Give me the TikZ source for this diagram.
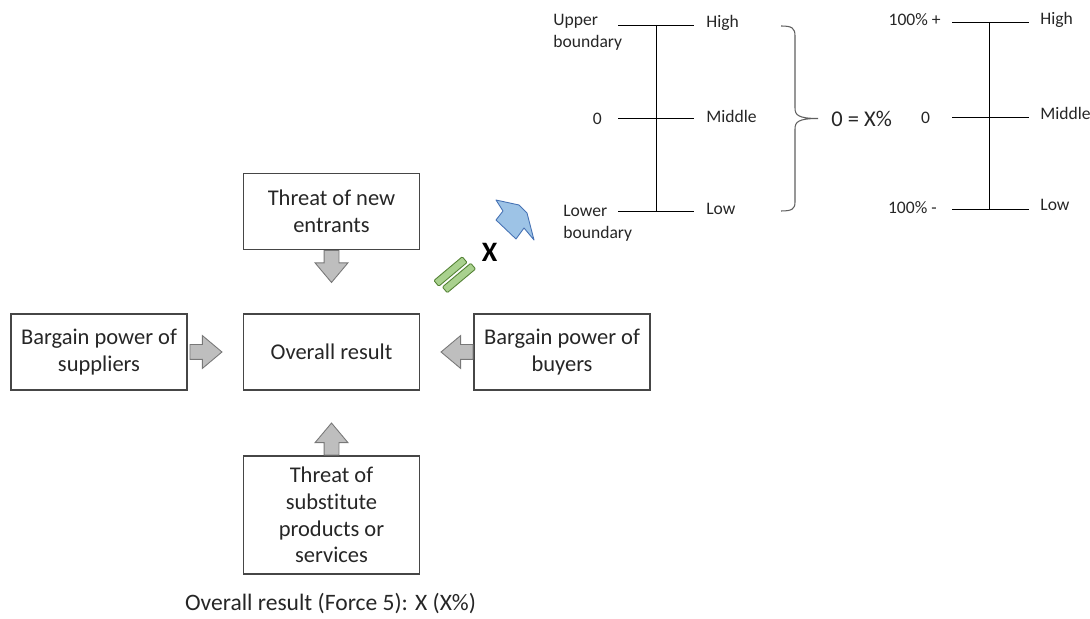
\documentclass[tikz,border=0pt]{standalone}
\usepackage{fontspec}
\setmainfont{Carlito}[Ligatures=NoCommon]
\usetikzlibrary{shapes.arrows,calc}

\definecolor{boxline}{RGB}{70,70,70}
\definecolor{arrowfill}{RGB}{190,190,190}
\definecolor{arrowline}{RGB}{120,120,120}
\definecolor{bluefill}{RGB}{157,195,230}
\definecolor{blueline}{RGB}{70,114,180}
\definecolor{greenfill}{RGB}{169,209,142}
\definecolor{greenline}{RGB}{84,130,53}
\definecolor{braceline}{RGB}{95,95,95}

\tikzset{
  forcebox/.style={draw=boxline, line width=0.6pt, minimum width=35.2mm, minimum height=15.2mm,
    align=center, inner sep=2pt, font=\fontsize{12.8}{15.2}\selectfont, text=black!85},
  blockarrow/.style={single arrow, draw=arrowline, fill=arrowfill, line width=0.5pt,
    minimum height=6.4mm, minimum width=6.4mm, inner sep=1.4mm,
    single arrow head extend=1.8mm, single arrow tip angle=80, anchor=tail},
  scalelabel/.style={font=\fontsize{10}{12.5}\selectfont, inner sep=0pt, align=left, text=black!85},
  scaleline/.style={line width=0.45pt},
  greenbar/.style={draw=greenline, fill=greenfill, line width=0.5pt, rounded corners=0.6pt,
    minimum width=7.4mm, minimum height=1.5mm, inner sep=0pt, rotate=40},
}

\begin{document}
\begin{tikzpicture}[x=0.2mm,y=-0.2mm]
\useasboundingbox (0,0) rectangle (1090,619);

% the five forces
\node[forcebox] (entrants) at (331.5,211.5) {Threat of new\\entrants};
\node[forcebox] (suppliers) at (99,352) {Bargain power of\\suppliers};
\node[forcebox] (result) at (331.5,352) {Overall result};
\node[forcebox] (buyers) at (562,352) {Bargain power of\\buyers};
\node[forcebox, minimum height=23.6mm] (substitute) at (331.5,515) {Threat of\\substitute\\products or\\services};
\node[font=\fontsize{13.4}{16}\selectfont, text=black!85] (caption) at (330.5,604) {Overall result (Force 5): X (X\%)};

\node[blockarrow, shape border rotate=270] (adown) at (entrants.south) {};
\node[blockarrow, shape border rotate=0] (aright) at ($(suppliers.east)+(2,0)$) {};
\node[blockarrow, shape border rotate=180] (aleft) at (buyers.west) {};
\node[blockarrow, shape border rotate=90] (aup) at (substitute.north) {};

% equals sign, X and the blue arrow
\node[greenbar] (bara) at (450.5,271.5) {};
\node[greenbar] (barb) at (459,278) {};
\node[font=\fontsize{16}{16}\selectfont\bfseries] (xmark) at (489.5,252) {X};
\draw[draw=blueline, fill=bluefill, line width=0.5pt, line join=round]
  (496,200) -- (519,205) -- (527,213) -- (534,240) -- (524,228) -- (516,239) -- (496,220) -- (503,211) -- cycle;

% scale with boundaries
\draw[scaleline] (656.5,25) -- (656.5,211);
\foreach \yy in {25,118.5,211} \draw[scaleline] (618,\yy) -- (694,\yy);
\node[scalelabel, anchor=west] (upper) at (553,32) {Upper\\boundary};
\node[scalelabel, anchor=east] (zeroa) at (602,118.5) {0};
\node[scalelabel, anchor=west] (lower) at (563,223) {Lower\\boundary};
\node[scalelabel, anchor=west] (higha) at (706,23) {High};
\node[scalelabel, anchor=west] (middlea) at (706,116) {Middle};
\node[scalelabel, anchor=west] (lowa) at (706,209) {Low};

% brace
\draw[draw=braceline, line width=0.6pt]
  (781,26) .. controls (792,26) and (795,28) .. (795,36) -- (795,108)
  .. controls (795,115) and (798,118.5) .. (818,118.5)
  .. controls (798,118.5) and (795,122) .. (795,129) -- (795,202)
  .. controls (795,209) and (792,211) .. (781,211);
\node[anchor=west, font=\fontsize{12.8}{15}\selectfont, text=black!85, inner sep=0pt] (equal) at (831,118.5) {0 = X\%};

% percentage scale
\draw[scaleline] (989,22) -- (989,209);
\foreach \yy in {22,117,209} \draw[scaleline] (952,\yy) -- (1029,\yy);
\node[scalelabel, anchor=east] (plus) at (941,20) {100\% +};
\node[scalelabel] (zerob) at (925.5,117.5) {0};
\node[scalelabel, anchor=east] (minus) at (937,207.5) {100\% -};
\node[scalelabel, anchor=west] (highb) at (1040,20) {High};
\node[scalelabel, anchor=west] (middleb) at (1040,113.5) {Middle};
\node[scalelabel, anchor=west] (lowb) at (1040,205) {Low};
\end{tikzpicture}
\end{document}
